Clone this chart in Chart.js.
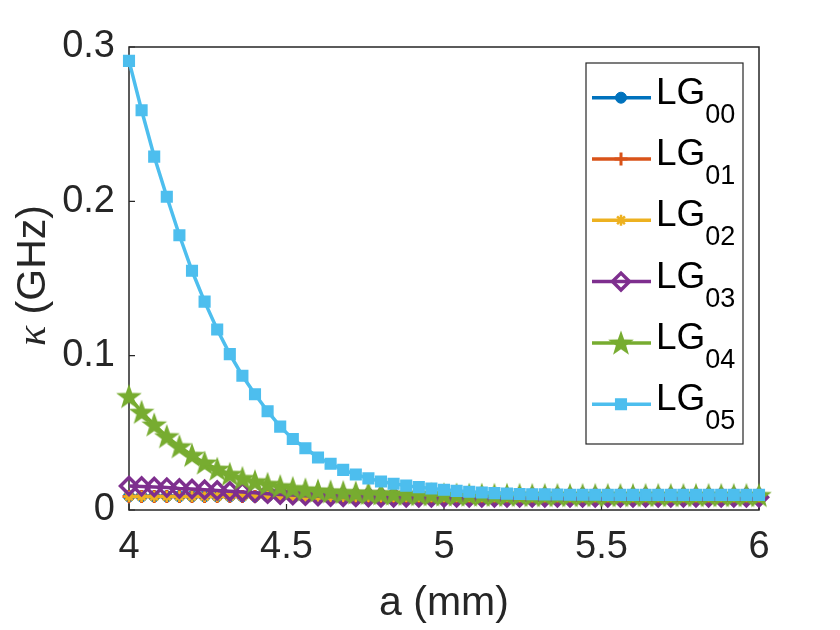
<!DOCTYPE html>
<html>
<head>
<meta charset="utf-8">
<script src="https://cdn.jsdelivr.net/npm/chart.js@4.4.1/dist/chart.umd.min.js"></script>
<style>
  body { margin: 0; background: #fff; }
  canvas { display: block; }
</style>
</head>
<body>
<canvas id="kappaChart" width="840" height="630"></canvas>
<script>
// a (mm)
const aValues = [4.00, 4.04, 4.08, 4.12, 4.16, 4.20, 4.24, 4.28, 4.32, 4.36,
                 4.40, 4.44, 4.48, 4.52, 4.56, 4.60, 4.64, 4.68, 4.72, 4.76,
                 4.80, 4.84, 4.88, 4.92, 4.96, 5.00, 5.04, 5.08, 5.12, 5.16,
                 5.20, 5.24, 5.28, 5.32, 5.36, 5.40, 5.44, 5.48, 5.52, 5.56,
                 5.60, 5.64, 5.68, 5.72, 5.76, 5.80, 5.84, 5.88, 5.92, 5.96, 6.00];

// kappa (GHz)
const lg00 = [0.0089, 0.0089, 0.0089, 0.0089, 0.0089, 0.0089, 0.0089, 0.0089, 0.0089, 0.0089,
              0.0089, 0.0089, 0.0089, 0.0089, 0.0089, 0.0089, 0.0089, 0.0089, 0.0089, 0.0089,
              0.0089, 0.0089, 0.0089, 0.0089, 0.0089, 0.0089, 0.0089, 0.0089, 0.0089, 0.0089,
              0.0089, 0.0089, 0.0089, 0.0089, 0.0089, 0.0089, 0.0089, 0.0089, 0.0089, 0.0089,
              0.0089, 0.0089, 0.0089, 0.0089, 0.0089, 0.0089, 0.0089, 0.0089, 0.0089, 0.0089, 0.0089];
const lg01 = [0.0088, 0.0088, 0.0088, 0.0088, 0.0088, 0.0088, 0.0088, 0.0088, 0.0088, 0.0088,
              0.0088, 0.0088, 0.0088, 0.0088, 0.0088, 0.0088, 0.0088, 0.0088, 0.0088, 0.0088,
              0.0088, 0.0088, 0.0088, 0.0088, 0.0088, 0.0088, 0.0088, 0.0088, 0.0088, 0.0088,
              0.0088, 0.0088, 0.0088, 0.0088, 0.0088, 0.0088, 0.0088, 0.0088, 0.0088, 0.0088,
              0.0088, 0.0088, 0.0088, 0.0088, 0.0088, 0.0088, 0.0088, 0.0088, 0.0088, 0.0088, 0.0088];
const lg02 = [0.0087, 0.0087, 0.0087, 0.0087, 0.0087, 0.0087, 0.0087, 0.0087, 0.0087, 0.0087,
              0.0087, 0.0087, 0.0087, 0.0087, 0.0087, 0.0087, 0.0087, 0.0087, 0.0087, 0.0087,
              0.0087, 0.0087, 0.0087, 0.0087, 0.0087, 0.0087, 0.0087, 0.0087, 0.0087, 0.0087,
              0.0087, 0.0087, 0.0087, 0.0087, 0.0087, 0.0087, 0.0087, 0.0087, 0.0087, 0.0087,
              0.0087, 0.0087, 0.0087, 0.0087, 0.0087, 0.0087, 0.0087, 0.0087, 0.0087, 0.0087, 0.0087];
const lg03 = [0.0155, 0.0153, 0.0149, 0.0145, 0.0139, 0.0136, 0.0131, 0.0127, 0.0121, 0.0116,
              0.0111, 0.0106, 0.0101, 0.0097, 0.0093, 0.0090, 0.0088, 0.0086, 0.0085, 0.0084,
              0.0083, 0.0083, 0.0082, 0.0082, 0.0082, 0.0082, 0.0082, 0.0082, 0.0082, 0.0082,
              0.0082, 0.0082, 0.0082, 0.0082, 0.0082, 0.0082, 0.0082, 0.0082, 0.0082, 0.0082,
              0.0082, 0.0082, 0.0082, 0.0082, 0.0082, 0.0082, 0.0082, 0.0082, 0.0082, 0.0082, 0.0082];
const lg04 = [0.0736, 0.0634, 0.0552, 0.0476, 0.0411, 0.0355, 0.0305, 0.0265, 0.0232, 0.0205,
              0.0184, 0.0167, 0.0152, 0.0140, 0.0131, 0.0124, 0.0118, 0.0114, 0.0111, 0.0108,
              0.0106, 0.0104, 0.0102, 0.0101, 0.0100, 0.0099, 0.0098, 0.0097, 0.0097, 0.0096,
              0.0096, 0.0096, 0.0095, 0.0095, 0.0095, 0.0095, 0.0095, 0.0095, 0.0095, 0.0095,
              0.0095, 0.0095, 0.0095, 0.0095, 0.0095, 0.0095, 0.0095, 0.0095, 0.0095, 0.0095, 0.0095];
const lg05 = [0.291, 0.259, 0.229, 0.203, 0.178, 0.155, 0.135, 0.117, 0.101, 0.087,
              0.075, 0.064, 0.054, 0.046, 0.040, 0.034, 0.030, 0.026, 0.023, 0.0205,
              0.0185, 0.0170, 0.0158, 0.0148, 0.0139, 0.0131, 0.0124, 0.0118, 0.0113, 0.0109,
              0.0106, 0.0104, 0.0102, 0.0101, 0.0100, 0.0099, 0.0099, 0.0099, 0.0098, 0.0098,
              0.0098, 0.0098, 0.0098, 0.0098, 0.0098, 0.0098, 0.0098, 0.0098, 0.0098, 0.0098, 0.0098];

const modeIndices = ['00', '01', '02', '03', '04', '05'];
const xTickValues = [4, 4.5, 5, 5.5, 6];
const xTickLabels = ['4', '4.5', '5', '5.5', '6'];
const yTickValues = [0, 0.1, 0.2, 0.3];
const yTickLabels = ['0', '0.1', '0.2', '0.3'];

const allSeries = [lg00, lg01, lg02, lg03, lg04, lg05];
const colores = ['#0072BD', '#D95319', '#EDB120', '#7E2F8E', '#77AC30', '#4DBEEE'];
const textColor = '#262626';

// pentagram marker (no such pointStyle in Chart.js)
function hacerEstrella(color) {
    const c = document.createElement('canvas');
    c.width = 30; c.height = 30;
    const g = c.getContext('2d');
    const R = 13.5, r = R * 0.4;
    g.beginPath();
    for (let i = 0; i < 10; i++) {
        const ang = -Math.PI / 2 + i * Math.PI / 5;
        const rad = i % 2 === 0 ? R : r;
        const px = 15 + rad * Math.cos(ang), py = 15.9 + rad * Math.sin(ang);
        i === 0 ? g.moveTo(px, py) : g.lineTo(px, py);
    }
    g.closePath();
    g.fillStyle = color;
    g.fill();
    return c;
}
const estrella = hacerEstrella(colores[4]);

const marcadores = [
    { pointStyle: 'circle', radius: 5.5, borderWidth: 1, fill: colores[0] },
    { pointStyle: 'cross', radius: 6.5, borderWidth: 3, fill: colores[1] },
    { pointStyle: 'star', radius: 5.5, borderWidth: 2.5, fill: colores[2] },
    { pointStyle: 'rectRot', radius: 8.5, borderWidth: 3.5, fill: 'rgba(0,0,0,0)' },
    { pointStyle: estrella, radius: 14, borderWidth: 0, fill: colores[4] },
    { pointStyle: 'rect', radius: 7.5, borderWidth: 1.5, fill: colores[5] }
];

const datasets = allSeries.map((serie, i) => ({
    label: 'LG' + modeIndices[i],
    data: aValues.map((a, j) => ({ x: a, y: serie[j] })),
    borderColor: colores[i],
    backgroundColor: colores[i],
    borderWidth: 3.5,
    pointStyle: marcadores[i].pointStyle,
    pointRadius: marcadores[i].radius,
    pointBorderWidth: marcadores[i].borderWidth,
    pointBorderColor: colores[i],
    pointBackgroundColor: marcadores[i].fill,
    tension: 0,
    clip: false,
    order: 5 - i
}));

// box + inward ticks, drawn under the data
const ejesPlugin = {
    id: 'ejes',
    beforeDatasetsDraw(chart) {
        const { ctx, chartArea: ca, scales } = chart;
        ctx.save();
        ctx.strokeStyle = '#262626';
        ctx.lineWidth = 1.5;
        ctx.strokeRect(ca.left, ca.top, ca.right - ca.left, ca.bottom - ca.top);
        ctx.lineWidth = 1.2;
        ctx.beginPath();
        xTickValues.forEach(v => {
            const px = scales.x.getPixelForValue(v);
            ctx.moveTo(px, ca.bottom);
            ctx.lineTo(px, ca.bottom - 6);
        });
        yTickValues.forEach(v => {
            const py = scales.y.getPixelForValue(v);
            ctx.moveTo(ca.left, py);
            ctx.lineTo(ca.left + 6, py);
        });
        ctx.stroke();
        ctx.restore();
    }
};

// y title with italic kappa
const tituloYPlugin = {
    id: 'tituloY',
    afterDraw(chart) {
        const { ctx, chartArea: ca } = chart;
        ctx.save();
        ctx.translate(ca.left - 84, (ca.top + ca.bottom) / 2 - 3);
        ctx.rotate(-Math.PI / 2);
        ctx.textBaseline = 'alphabetic';
        ctx.fillStyle = textColor;
        const f1 = 'italic 42px "Liberation Serif"';
        const f2 = '41px "Liberation Sans"';
        ctx.font = f1;
        const w1 = ctx.measureText('κ').width;
        ctx.font = f2;
        const w2 = ctx.measureText(' (GHz)').width;
        let x0 = -(w1 + w2) / 2;
        ctx.font = f1;
        ctx.fillText('κ', x0, 0);
        ctx.font = f2;
        ctx.fillText(' (GHz)', x0 + w1, 0);
        ctx.restore();
    }
};

// legend with subscripts
const leyendaPlugin = {
    id: 'leyenda',
    afterDatasetsDraw(chart) {
        const { ctx, chartArea: ca } = chart;
        const right = ca.right - 16, top = ca.top + 16;
        const left = right - 157, bottom = top + 381;
        ctx.save();
        ctx.fillStyle = '#fff';
        ctx.fillRect(left, top, right - left, bottom - top);
        ctx.strokeStyle = '#262626';
        ctx.lineWidth = 1.2;
        ctx.strokeRect(left, top, right - left, bottom - top);
        modeIndices.forEach((idx, i) => {
            const y = top + 34.7 + i * 61.3;
            ctx.strokeStyle = colores[i];
            ctx.lineWidth = 3.5;
            ctx.beginPath();
            ctx.moveTo(left + 6, y);
            ctx.lineTo(left + 65, y);
            ctx.stroke();
            const m = marcadores[i];
            ctx.fillStyle = m.fill;
            ctx.strokeStyle = colores[i];
            ctx.lineWidth = m.borderWidth;
            Chart.helpers.drawPoint(ctx, {
                pointStyle: m.pointStyle, rotation: 0,
                radius: m.radius, borderWidth: m.borderWidth
            }, left + 35, y);
            ctx.fillStyle = '#000';
            ctx.textBaseline = 'alphabetic';
            ctx.font = '37px "Liberation Sans"';
            ctx.fillText('LG', left + 70, y + 6);
            const wLG = ctx.measureText('LG').width;
            ctx.font = '27px "Liberation Sans"';
            ctx.fillText(idx, left + 70 + wLG, y + 25);
        });
        ctx.restore();
    }
};

const ctx = document.getElementById('kappaChart').getContext('2d');
new Chart(ctx, {
    type: 'line',
    data: { datasets },
    options: {
        responsive: false,
        animation: false,
        events: [],
        layout: { padding: { left: 0, top: 47, right: 81, bottom: 0 } },
        plugins: { legend: { display: false }, tooltip: { enabled: false } },
        scales: {
            x: {
                type: 'linear',
                min: 4, max: 6,
                afterFit(scale) { scale.height = 120; },
                afterBuildTicks(scale) { scale.ticks = xTickValues.map(v => ({ value: v })); },
                grid: { display: false, drawTicks: false },
                border: { display: false },
                ticks: {
                    padding: 15,
                    color: textColor,
                    font: { family: 'Liberation Sans', size: 38 },
                    maxRotation: 0,
                    callback: (v) => xTickLabels[xTickValues.indexOf(v)]
                },
                title: {
                    display: true,
                    text: 'a (mm)',
                    color: textColor,
                    font: { family: 'Liberation Sans', size: 41 },
                    padding: { top: 0, bottom: 2 }
                }
            },
            y: {
                type: 'linear',
                min: 0, max: 0.3,
                afterFit(scale) { scale.width = 129; },
                afterBuildTicks(scale) { scale.ticks = yTickValues.map(v => ({ value: v })); },
                grid: { display: false, drawTicks: false },
                border: { display: false },
                ticks: {
                    padding: 14,
                    color: textColor,
                    font: { family: 'Liberation Sans', size: 38 },
                    callback: (v) => yTickLabels[yTickValues.indexOf(v)]
                }
            }
        }
    },
    plugins: [ejesPlugin, tituloYPlugin, leyendaPlugin]
});
</script>
</body>
</html>
